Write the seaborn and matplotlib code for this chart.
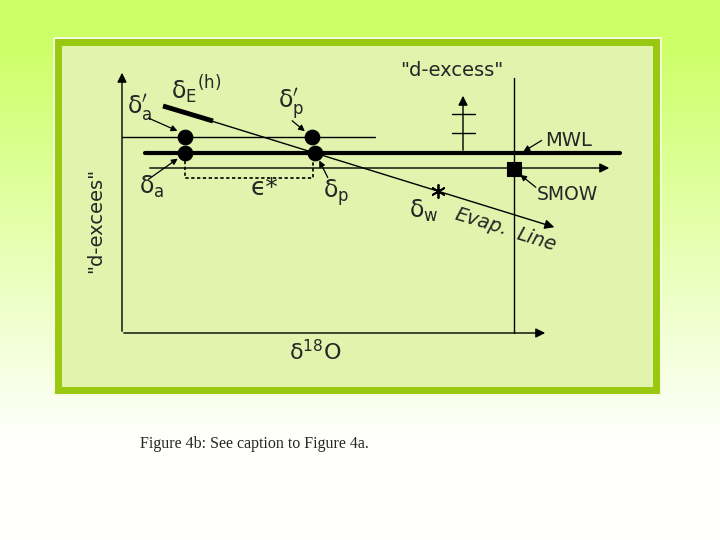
import numpy as np
import pandas as pd
import seaborn as sns
import matplotlib.pyplot as plt
from matplotlib.patches import Rectangle

# schematic positions (pixel frame of the 720x540 slide, y grows downward)
point_names = ["da_prime", "da", "dp_prime", "dp"]
point_x = [185, 185, 312, 315]
point_y = [137, 153, 137, 153]

smow_x = [514]
smow_y = [169]

mwl_x = [145, 620]
mwl_y = [153, 153]
upper_x = [122, 375]
upper_y = [137, 137]
evap_x = [163, 557]
evap_y = [106, 228]
evap_thick_x = [163, 213]
evap_thick_y = [106, 121]
star_x = [438]
star_y = [191]
eps_box_x = [185, 185, 313, 313]
eps_box_y = [155, 178, 178, 155]

sns.set_style("white")
plt.rcParams["font.family"] = ["DejaVu Sans"]
plt.rcParams["mathtext.fontset"] = "dejavusans"

fig = plt.figure(figsize=(7.2, 5.4), dpi=100)
ax = fig.add_axes([0, 0, 1, 1])
ax.set_xlim(0, 720)
ax.set_ylim(540, 0)
ax.axis("off")

# slide background: lime at top fading to white
rows = np.arange(540)
t = np.clip((rows - 40) / 400.0, 0, 1)
top = np.array([0.80, 1.0, 0.40])
bot = np.array([1.0, 1.0, 0.99])
grad = top[None, :] * (1 - t[:, None]) + bot[None, :] * t[:, None]
ax.imshow(grad[:, None, :], extent=[0, 720, 540, 0], aspect="auto", zorder=0)

# panel
ax.add_patch(Rectangle((54, 38), 606, 356, facecolor="none", edgecolor="#f4fbe0", lw=2, zorder=1))
ax.add_patch(Rectangle((58, 42), 598, 348, facecolor="#e1f3ad", edgecolor="#99c811", lw=5, zorder=1))

k = "black"
arrow = dict(arrowstyle="-|>", color=k, lw=1.0, mutation_scale=14)
small_arrow = dict(arrowstyle="-|>", color=k, lw=0.9, mutation_scale=9)

# main axes
ax.annotate("", xy=(548, 333), xytext=(121, 333), arrowprops=arrow, zorder=3)
ax.annotate("", xy=(122, 70), xytext=(122, 334), arrowprops=arrow, zorder=3)
ax.plot([514, 514], [78, 333], color=k, lw=1.0, zorder=3)

# lines
ax.plot(mwl_x, mwl_y, color=k, lw=3.0, zorder=3)
ax.plot(upper_x, upper_y, color=k, lw=1.0, zorder=3)
ax.annotate("", xy=(612, 168), xytext=(147, 168), arrowprops=arrow, zorder=3)
ax.annotate("", xy=(evap_x[1], evap_y[1]), xytext=(evap_x[0], evap_y[0]), arrowprops=arrow, zorder=3)
ax.plot(evap_thick_x, evap_thick_y, color=k, lw=3.5, solid_capstyle="butt", zorder=3)
ax.plot(eps_box_x, eps_box_y, color=k, lw=1.2, ls=(0, (2, 1.5)), zorder=3)

# small d-excess axis
ax.annotate("", xy=(463, 93), xytext=(463, 153), arrowprops=arrow, zorder=3)
ax.plot([452, 475], [114, 114], color=k, lw=1.0, zorder=3)
ax.plot([452, 475], [133, 133], color=k, lw=1.0, zorder=3)

# points
pts = pd.DataFrame({"name": point_names, "x": point_x, "y": point_y})
sns.scatterplot(data=pts, x="x", y="y", ax=ax, s=110, color=k, edgecolor=k, zorder=4, legend=False)
sns.scatterplot(x=smow_x, y=smow_y, ax=ax, marker="s", s=100, color=k, edgecolor=k, zorder=4, legend=False)
sns.scatterplot(x=star_x, y=star_y, ax=ax, marker=(6, 2, 0), s=90, color=k, linewidth=1.3, zorder=4, legend=False)
ax.set_xlim(0, 720)
ax.set_ylim(540, 0)
ax.axis("off")

fs = 14
# labels
ax.text(196, 90, r"δ$_\mathrm{E}$$^\mathrm{(h)}$", fontsize=17, ha="center", va="center", zorder=5)
ax.text(140, 108, r"δ$_\mathrm{a}^{\prime}$", fontsize=17, ha="center", va="center", zorder=5)
ax.text(291, 104, r"δ$_\mathrm{p}^{\prime}$", fontsize=17, ha="center", va="center", zorder=5)
ax.text(152, 187, r"δ$_\mathrm{a}$", fontsize=17, ha="center", va="center", zorder=5)
ax.text(336, 193, r"δ$_\mathrm{p}$", fontsize=17, ha="center", va="center", zorder=5)
ax.text(265, 188, "ϵ*", fontsize=18, ha="center", va="center", zorder=5)
ax.text(424, 211, r"δ$_\mathrm{w}$", fontsize=17, ha="center", va="center", zorder=5)
ax.text(481, 222, "Evap.", fontsize=fs, ha="center", va="center", rotation=-17,
        style="italic", zorder=5)
ax.text(537, 240, "Line", fontsize=fs, ha="center", va="center", rotation=-17,
        style="italic", zorder=5)
ax.text(315, 352, r"δ$^\mathrm{18}$O", fontsize=16, ha="center", va="center", zorder=5)
ax.text(96, 220, '"d-excees"', fontsize=fs, ha="center", va="center", rotation=90, zorder=5)
ax.text(452, 71, '"d-excess"', fontsize=fs, ha="center", va="center", zorder=5)
ax.text(545, 141, "MWL", fontsize=fs, ha="left", va="center", zorder=5)
ax.text(537, 194, "SMOW", fontsize=13.5, ha="left", va="center", zorder=5)

# pointer arrows
ax.annotate("", xy=(180, 132), xytext=(146, 117), arrowprops=small_arrow, zorder=5)
ax.annotate("", xy=(180, 157), xytext=(146, 181), arrowprops=small_arrow, zorder=5)
ax.annotate("", xy=(307, 133), xytext=(290, 119), arrowprops=small_arrow, zorder=5)
ax.annotate("", xy=(318, 158), xytext=(329, 180), arrowprops=small_arrow, zorder=5)
ax.annotate("", xy=(521, 153), xytext=(544, 139), arrowprops=small_arrow, zorder=5)
ax.annotate("", xy=(518, 173), xytext=(538, 189), arrowprops=small_arrow, zorder=5)

# caption
ax.text(140, 444, "Figure 4b: See caption to Figure 4a.", fontsize=11.5,
        family=["Liberation Serif", "DejaVu Serif"], ha="left", va="center", zorder=5)

fig.savefig("out.png", dpi=100)
